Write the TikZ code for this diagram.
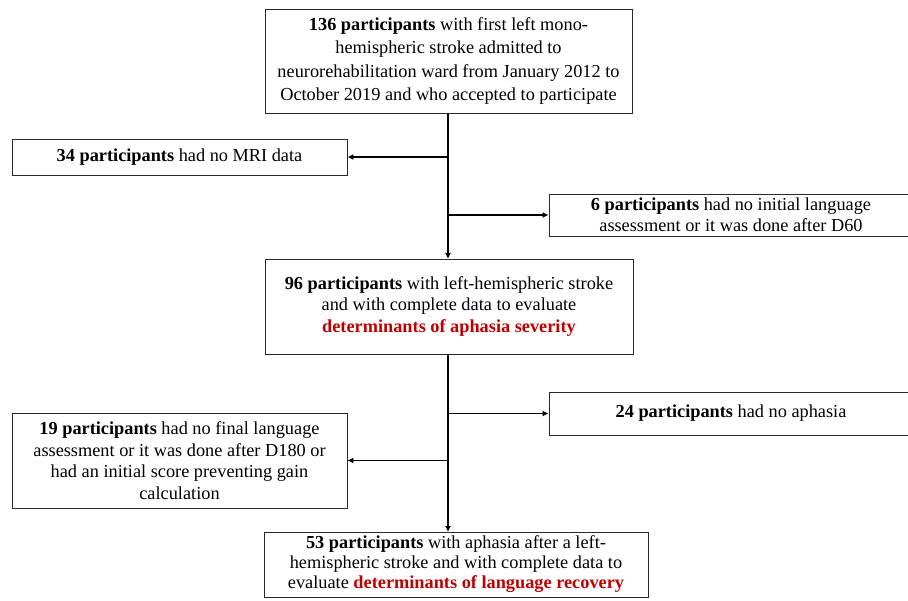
\documentclass[tikz,border=0pt]{standalone}
\usepackage{fontspec}
\setmainfont{Liberation Serif}
\usetikzlibrary{arrows.meta}
\definecolor{darkred}{RGB}{192,0,0}
\definecolor{boxline}{RGB}{40,40,40}
\tikzset{
  boxnode/.style={draw=boxline, line width=0.9pt, inner sep=0pt, align=center, font=\fontsize{18.3}{23.5}\selectfont},
  arr/.style={draw=black, line width=1.4pt, -{Latex[length=6pt,width=6pt]}}
}
\newcommand{\hl}[1]{\textbf{\color{darkred}#1}}
\begin{document}
\begin{tikzpicture}[x=1pt,y=-1pt]
\useasboundingbox (0,0) rectangle (908,601);
\clip (0,0) rectangle (908,601);
\fill[white] (0,0) rectangle (908,601);
\node[boxnode, minimum width=367pt, minimum height=104pt] (b1) at (448.5,61)
  {\textbf{136 participants} with first left mono-\\hemispheric stroke admitted to\\neurorehabilitation ward from January 2012 to\\October 2019 and who accepted to participate};
\node[boxnode, minimum width=335pt, minimum height=36pt] (b2) at (179.5,157)
  {\textbf{34 participants} had no MRI data};
\node[boxnode, minimum width=364pt, minimum height=42pt, font=\fontsize{18.3}{21}\selectfont] (b3) at (731,215)
  {\textbf{6 participants} had no initial language\\assessment or it was done after D60};
\node[boxnode, minimum width=368pt, minimum height=95pt, font=\fontsize{18.3}{21.5}\selectfont] (b4) at (449,306.5)
  {\textbf{96 participants} with left-hemispheric stroke\\and with complete data to evaluate\\\hl{determinants of aphasia severity}};
\node[boxnode, minimum width=335pt, minimum height=95pt, font=\fontsize{18.3}{21.5}\selectfont] (b5) at (179.5,460.5)
  {\textbf{19 participants} had no final language\\assessment or it was done after D180 or\\had an initial score preventing gain\\calculation};
\node[boxnode, minimum width=364pt, minimum height=43pt] (b6) at (731,413.5)
  {\textbf{24 participants} had no aphasia};
\node[boxnode, minimum width=384pt, minimum height=65pt, font=\fontsize{18.3}{20}\selectfont] (b7) at (456,564.5)
  {\textbf{53 participants} with aphasia after a left-\\hemispheric stroke and with complete data to\\evaluate \hl{determinants of language recovery}};
\coordinate (t1) at (448,113);
\coordinate (t4) at (448,259);
\coordinate (s4) at (448,354);
\coordinate (t7) at (448,532);
\draw[arr] (b1.south -| t1) -- (t4);
\draw[arr] (t1 |- b2.east) -- (b2.east);
\draw[arr] (t1 |- b3.west) -- (b3.west);
\draw[arr] (s4) -- (t7);
\draw[arr] (s4 |- b6.west) -- (b6.west);
\draw[arr] (s4 |- b5.east) -- (b5.east);
\end{tikzpicture}
\end{document}
